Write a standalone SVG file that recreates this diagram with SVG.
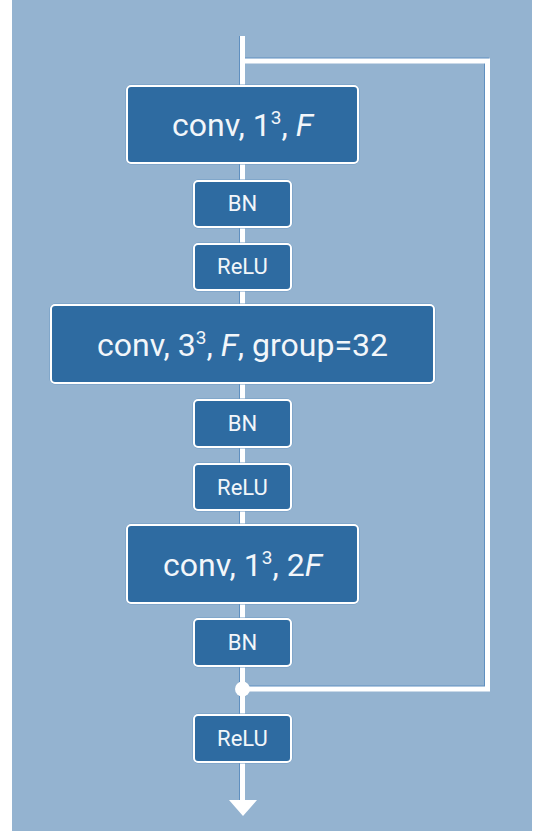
<svg xmlns="http://www.w3.org/2000/svg" width="538" height="831" viewBox="0 0 538 831">
<style>
.bg{fill:#94b3d0}
.box{fill:#2e6ba1;stroke:#ffffff;stroke-width:2}
.boxo{fill:none;stroke:#6f9ac4;stroke-width:1}
.t{font-family:Roboto,"Liberation Sans",sans-serif;fill:#f2f6fa;text-anchor:middle}
.big{font-size:32px}
.sm{font-size:22px}
.sh{fill:none;stroke:#5f8fbf;stroke-width:5}
.ln{fill:none;stroke:#ffffff;stroke-width:5}
</style>
<rect x="0" y="0" width="538" height="831" fill="#ffffff"/>
<rect class="bg" x="12" y="0" width="520" height="831"/>
<g id="connectors">
<path class="sh" d="M241.5 36 V800 M241.5 60 H486.5 V688 H241.5"/>
<path class="ln" d="M242.5 36 V800 M242.5 61 H487.5 V689 H242.5"/>
<circle cx="242.5" cy="689" r="7.5" fill="#ffffff"/>
<polygon points="229,800 257,800 243,816" fill="#ffffff"/>
</g>
<g id="conv1">
<rect class="boxo" x="126" y="85" width="233" height="79" rx="5"/>
<rect class="box" x="127" y="86" width="231" height="77" rx="4"/>
<text class="t big" x="242.5" y="135.5">conv, 1<tspan font-size="19" dy="-12">3</tspan><tspan dy="12">, </tspan><tspan font-style="italic">F</tspan></text>
</g>
<g id="bn1">
<rect class="boxo" x="193" y="180" width="99" height="48" rx="5"/>
<rect class="box" x="194" y="181" width="97" height="46" rx="4"/>
<text class="t sm" x="242.5" y="211">BN</text>
</g>
<g id="relu1">
<rect class="boxo" x="193" y="243" width="99" height="48" rx="5"/>
<rect class="box" x="194" y="244" width="97" height="46" rx="4"/>
<text class="t sm" x="242.5" y="274">ReLU</text>
</g>
<g id="conv2">
<rect class="boxo" x="50" y="304" width="385" height="80" rx="5"/>
<rect class="box" x="51" y="305" width="383" height="78" rx="4"/>
<text class="t big" x="242.5" y="355.5">conv, 3<tspan font-size="19" dy="-12">3</tspan><tspan dy="12">, </tspan><tspan font-style="italic">F</tspan>, group=32</text>
</g>
<g id="bn2">
<rect class="boxo" x="193" y="399" width="99" height="49" rx="5"/>
<rect class="box" x="194" y="400" width="97" height="47" rx="4"/>
<text class="t sm" x="242.5" y="431">BN</text>
</g>
<g id="relu2">
<rect class="boxo" x="193" y="463" width="99" height="48" rx="5"/>
<rect class="box" x="194" y="464" width="97" height="46" rx="4"/>
<text class="t sm" x="242.5" y="494.5">ReLU</text>
</g>
<g id="conv3">
<rect class="boxo" x="126" y="524" width="233" height="80" rx="5"/>
<rect class="box" x="127" y="525" width="231" height="78" rx="4"/>
<text class="t big" x="242.5" y="575.5">conv, 1<tspan font-size="19" dy="-12">3</tspan><tspan dy="12">, 2</tspan><tspan font-style="italic">F</tspan></text>
</g>
<g id="bn3">
<rect class="boxo" x="193" y="618" width="99" height="49" rx="5"/>
<rect class="box" x="194" y="619" width="97" height="47" rx="4"/>
<text class="t sm" x="242.5" y="650">BN</text>
</g>
<g id="relu3">
<rect class="boxo" x="193" y="714" width="99" height="49" rx="5"/>
<rect class="box" x="194" y="715" width="97" height="47" rx="4"/>
<text class="t sm" x="242.5" y="746">ReLU</text>
</g>
</svg>
